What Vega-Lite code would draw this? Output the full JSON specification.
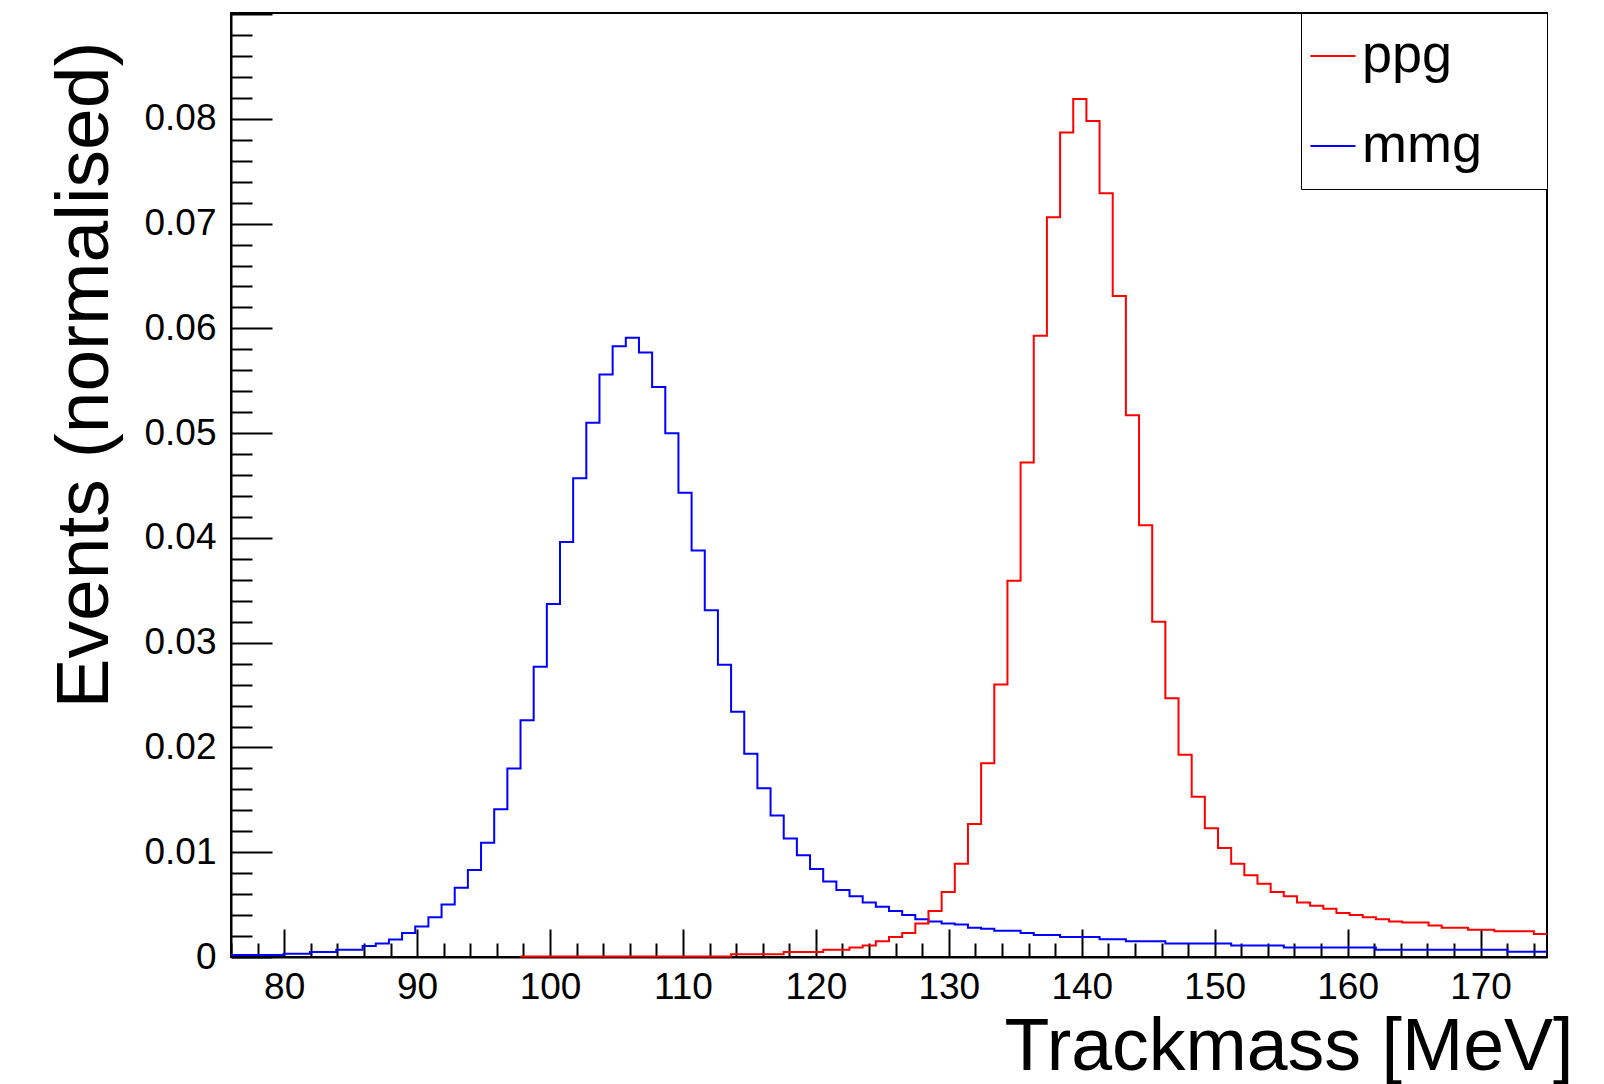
{
  "$schema": "https://vega.github.io/schema/vega-lite/v6.json",
  "width": 1316,
  "height": 944,
  "autosize": "none",
  "padding": {"left": 231, "top": 13, "right": 57, "bottom": 127},
  "background": "white",
  "config": {"view": {"stroke": "black", "strokeWidth": 2}, "font": "Liberation Sans"},
  "data": {"values": [
    {"sample": "mmg", "mass": 76, "events": 0.0002},
    {"sample": "mmg", "mass": 76.99, "events": 0.0002},
    {"sample": "mmg", "mass": 77.98, "events": 0.0002},
    {"sample": "mmg", "mass": 78.97, "events": 0.0002},
    {"sample": "mmg", "mass": 79.96, "events": 0.0003},
    {"sample": "mmg", "mass": 80.95, "events": 0.0003},
    {"sample": "mmg", "mass": 81.94, "events": 0.00048},
    {"sample": "mmg", "mass": 82.93, "events": 0.00048},
    {"sample": "mmg", "mass": 83.92, "events": 0.0007},
    {"sample": "mmg", "mass": 84.91, "events": 0.0007},
    {"sample": "mmg", "mass": 85.9, "events": 0.00105},
    {"sample": "mmg", "mass": 86.89, "events": 0.00128},
    {"sample": "mmg", "mass": 87.88, "events": 0.00166},
    {"sample": "mmg", "mass": 88.87, "events": 0.0023},
    {"sample": "mmg", "mass": 89.86, "events": 0.0029},
    {"sample": "mmg", "mass": 90.85, "events": 0.0038},
    {"sample": "mmg", "mass": 91.84, "events": 0.005},
    {"sample": "mmg", "mass": 92.83, "events": 0.0066},
    {"sample": "mmg", "mass": 93.82, "events": 0.0083},
    {"sample": "mmg", "mass": 94.81, "events": 0.0109},
    {"sample": "mmg", "mass": 95.8, "events": 0.0141},
    {"sample": "mmg", "mass": 96.79, "events": 0.018},
    {"sample": "mmg", "mass": 97.78, "events": 0.0226},
    {"sample": "mmg", "mass": 98.77, "events": 0.0277},
    {"sample": "mmg", "mass": 99.76, "events": 0.0337},
    {"sample": "mmg", "mass": 100.75, "events": 0.0396},
    {"sample": "mmg", "mass": 101.74, "events": 0.0457},
    {"sample": "mmg", "mass": 102.73, "events": 0.051},
    {"sample": "mmg", "mass": 103.72, "events": 0.0556},
    {"sample": "mmg", "mass": 104.71, "events": 0.0583},
    {"sample": "mmg", "mass": 105.7, "events": 0.0591},
    {"sample": "mmg", "mass": 106.69, "events": 0.0577},
    {"sample": "mmg", "mass": 107.68, "events": 0.0544},
    {"sample": "mmg", "mass": 108.67, "events": 0.05},
    {"sample": "mmg", "mass": 109.66, "events": 0.0443},
    {"sample": "mmg", "mass": 110.65, "events": 0.0388},
    {"sample": "mmg", "mass": 111.64, "events": 0.0331},
    {"sample": "mmg", "mass": 112.63, "events": 0.0279},
    {"sample": "mmg", "mass": 113.62, "events": 0.0234},
    {"sample": "mmg", "mass": 114.61, "events": 0.0194},
    {"sample": "mmg", "mass": 115.6, "events": 0.0161},
    {"sample": "mmg", "mass": 116.59, "events": 0.0135},
    {"sample": "mmg", "mass": 117.58, "events": 0.0113},
    {"sample": "mmg", "mass": 118.57, "events": 0.0097},
    {"sample": "mmg", "mass": 119.56, "events": 0.0084},
    {"sample": "mmg", "mass": 120.55, "events": 0.0072},
    {"sample": "mmg", "mass": 121.54, "events": 0.0064},
    {"sample": "mmg", "mass": 122.53, "events": 0.0058},
    {"sample": "mmg", "mass": 123.52, "events": 0.0052},
    {"sample": "mmg", "mass": 124.51, "events": 0.0048},
    {"sample": "mmg", "mass": 125.5, "events": 0.0044},
    {"sample": "mmg", "mass": 126.49, "events": 0.004},
    {"sample": "mmg", "mass": 127.48, "events": 0.0036},
    {"sample": "mmg", "mass": 128.47, "events": 0.0034},
    {"sample": "mmg", "mass": 129.46, "events": 0.0032},
    {"sample": "mmg", "mass": 130.45, "events": 0.0031},
    {"sample": "mmg", "mass": 131.44, "events": 0.0028},
    {"sample": "mmg", "mass": 132.43, "events": 0.0027},
    {"sample": "mmg", "mass": 133.42, "events": 0.0025},
    {"sample": "mmg", "mass": 134.41, "events": 0.0025},
    {"sample": "mmg", "mass": 135.4, "events": 0.0023},
    {"sample": "mmg", "mass": 136.39, "events": 0.0021},
    {"sample": "mmg", "mass": 137.38, "events": 0.0021},
    {"sample": "mmg", "mass": 138.37, "events": 0.0019},
    {"sample": "mmg", "mass": 139.36, "events": 0.0019},
    {"sample": "mmg", "mass": 140.35, "events": 0.0019},
    {"sample": "mmg", "mass": 141.34, "events": 0.0017},
    {"sample": "mmg", "mass": 142.33, "events": 0.0017},
    {"sample": "mmg", "mass": 143.32, "events": 0.0015},
    {"sample": "mmg", "mass": 144.31, "events": 0.0015},
    {"sample": "mmg", "mass": 145.3, "events": 0.0015},
    {"sample": "mmg", "mass": 146.29, "events": 0.0013},
    {"sample": "mmg", "mass": 147.28, "events": 0.0013},
    {"sample": "mmg", "mass": 148.27, "events": 0.0013},
    {"sample": "mmg", "mass": 149.26, "events": 0.0013},
    {"sample": "mmg", "mass": 150.25, "events": 0.0013},
    {"sample": "mmg", "mass": 151.24, "events": 0.0011},
    {"sample": "mmg", "mass": 152.23, "events": 0.0011},
    {"sample": "mmg", "mass": 153.22, "events": 0.0011},
    {"sample": "mmg", "mass": 154.21, "events": 0.0011},
    {"sample": "mmg", "mass": 155.2, "events": 0.0009},
    {"sample": "mmg", "mass": 156.19, "events": 0.0009},
    {"sample": "mmg", "mass": 157.18, "events": 0.0009},
    {"sample": "mmg", "mass": 158.17, "events": 0.0009},
    {"sample": "mmg", "mass": 159.16, "events": 0.0009},
    {"sample": "mmg", "mass": 160.15, "events": 0.0009},
    {"sample": "mmg", "mass": 161.14, "events": 0.0009},
    {"sample": "mmg", "mass": 162.13, "events": 0.0007},
    {"sample": "mmg", "mass": 163.12, "events": 0.0007},
    {"sample": "mmg", "mass": 164.11, "events": 0.0007},
    {"sample": "mmg", "mass": 165.1, "events": 0.0007},
    {"sample": "mmg", "mass": 166.09, "events": 0.0007},
    {"sample": "mmg", "mass": 167.08, "events": 0.0007},
    {"sample": "mmg", "mass": 168.07, "events": 0.0007},
    {"sample": "mmg", "mass": 169.06, "events": 0.0007},
    {"sample": "mmg", "mass": 170.05, "events": 0.0007},
    {"sample": "mmg", "mass": 171.04, "events": 0.0007},
    {"sample": "mmg", "mass": 172.03, "events": 0.0005},
    {"sample": "mmg", "mass": 173.02, "events": 0.0005},
    {"sample": "mmg", "mass": 174.01, "events": 0.0005},
    {"sample": "mmg", "mass": 175, "events": 0.0005},
    {"sample": "ppg", "mass": 97.78, "events": 0.00005},
    {"sample": "ppg", "mass": 98.77, "events": 0.00005},
    {"sample": "ppg", "mass": 99.76, "events": 0.00005},
    {"sample": "ppg", "mass": 100.75, "events": 0.00005},
    {"sample": "ppg", "mass": 101.74, "events": 0.00005},
    {"sample": "ppg", "mass": 102.73, "events": 0.00005},
    {"sample": "ppg", "mass": 103.72, "events": 0.00005},
    {"sample": "ppg", "mass": 104.71, "events": 0.00005},
    {"sample": "ppg", "mass": 105.7, "events": 0.00005},
    {"sample": "ppg", "mass": 106.69, "events": 0.00005},
    {"sample": "ppg", "mass": 107.68, "events": 0.00005},
    {"sample": "ppg", "mass": 108.67, "events": 0.00005},
    {"sample": "ppg", "mass": 109.66, "events": 0.00005},
    {"sample": "ppg", "mass": 110.65, "events": 0.00005},
    {"sample": "ppg", "mass": 111.64, "events": 0.00005},
    {"sample": "ppg", "mass": 112.63, "events": 0.00005},
    {"sample": "ppg", "mass": 113.62, "events": 0.00026},
    {"sample": "ppg", "mass": 114.61, "events": 0.00026},
    {"sample": "ppg", "mass": 115.6, "events": 0.00026},
    {"sample": "ppg", "mass": 116.59, "events": 0.00026},
    {"sample": "ppg", "mass": 117.58, "events": 0.00048},
    {"sample": "ppg", "mass": 118.57, "events": 0.00048},
    {"sample": "ppg", "mass": 119.56, "events": 0.00048},
    {"sample": "ppg", "mass": 120.55, "events": 0.0007},
    {"sample": "ppg", "mass": 121.54, "events": 0.0007},
    {"sample": "ppg", "mass": 122.53, "events": 0.0009},
    {"sample": "ppg", "mass": 123.52, "events": 0.0011},
    {"sample": "ppg", "mass": 124.51, "events": 0.0015},
    {"sample": "ppg", "mass": 125.5, "events": 0.0019},
    {"sample": "ppg", "mass": 126.49, "events": 0.0023},
    {"sample": "ppg", "mass": 127.48, "events": 0.0032},
    {"sample": "ppg", "mass": 128.47, "events": 0.0044},
    {"sample": "ppg", "mass": 129.46, "events": 0.0062},
    {"sample": "ppg", "mass": 130.45, "events": 0.0089},
    {"sample": "ppg", "mass": 131.44, "events": 0.0127},
    {"sample": "ppg", "mass": 132.43, "events": 0.0185},
    {"sample": "ppg", "mass": 133.42, "events": 0.026},
    {"sample": "ppg", "mass": 134.41, "events": 0.0359},
    {"sample": "ppg", "mass": 135.4, "events": 0.0472},
    {"sample": "ppg", "mass": 136.39, "events": 0.0593},
    {"sample": "ppg", "mass": 137.38, "events": 0.0706},
    {"sample": "ppg", "mass": 138.37, "events": 0.0787},
    {"sample": "ppg", "mass": 139.36, "events": 0.0819},
    {"sample": "ppg", "mass": 140.35, "events": 0.0798},
    {"sample": "ppg", "mass": 141.34, "events": 0.0729},
    {"sample": "ppg", "mass": 142.33, "events": 0.0631},
    {"sample": "ppg", "mass": 143.32, "events": 0.0517},
    {"sample": "ppg", "mass": 144.31, "events": 0.0412},
    {"sample": "ppg", "mass": 145.3, "events": 0.032},
    {"sample": "ppg", "mass": 146.29, "events": 0.0247},
    {"sample": "ppg", "mass": 147.28, "events": 0.0193},
    {"sample": "ppg", "mass": 148.27, "events": 0.0153},
    {"sample": "ppg", "mass": 149.26, "events": 0.0123},
    {"sample": "ppg", "mass": 150.25, "events": 0.0104},
    {"sample": "ppg", "mass": 151.24, "events": 0.0089},
    {"sample": "ppg", "mass": 152.23, "events": 0.0078},
    {"sample": "ppg", "mass": 153.22, "events": 0.007},
    {"sample": "ppg", "mass": 154.21, "events": 0.0062},
    {"sample": "ppg", "mass": 155.2, "events": 0.0058},
    {"sample": "ppg", "mass": 156.19, "events": 0.0052},
    {"sample": "ppg", "mass": 157.18, "events": 0.0049},
    {"sample": "ppg", "mass": 158.17, "events": 0.0046},
    {"sample": "ppg", "mass": 159.16, "events": 0.0042},
    {"sample": "ppg", "mass": 160.15, "events": 0.004},
    {"sample": "ppg", "mass": 161.14, "events": 0.0038},
    {"sample": "ppg", "mass": 162.13, "events": 0.0036},
    {"sample": "ppg", "mass": 163.12, "events": 0.0034},
    {"sample": "ppg", "mass": 164.11, "events": 0.0033},
    {"sample": "ppg", "mass": 165.1, "events": 0.0033},
    {"sample": "ppg", "mass": 166.09, "events": 0.003},
    {"sample": "ppg", "mass": 167.08, "events": 0.0028},
    {"sample": "ppg", "mass": 168.07, "events": 0.0028},
    {"sample": "ppg", "mass": 169.06, "events": 0.0026},
    {"sample": "ppg", "mass": 170.05, "events": 0.0026},
    {"sample": "ppg", "mass": 171.04, "events": 0.00245},
    {"sample": "ppg", "mass": 172.03, "events": 0.00245},
    {"sample": "ppg", "mass": 173.02, "events": 0.00245},
    {"sample": "ppg", "mass": 174.01, "events": 0.0022},
    {"sample": "ppg", "mass": 175, "events": 0.0022}
  ]},
  "mark": {"type": "line", "interpolate": "step-after", "strokeWidth": 2},
  "encoding": {
    "x": {
      "field": "mass", "type": "quantitative",
      "scale": {"domain": [76, 175], "nice": false, "zero": false},
      "axis": {
        "title": "Trackmass [MeV]",
        "values": [76,78,80,82,84,86,88,90,92,94,96,98,100,102,104,106,108,110,112,114,116,118,120,122,124,126,128,130,132,134,136,138,140,142,144,146,148,150,152,154,156,158,160,162,164,166,168,170,172,174],
        "labelExpr": "datum.value % 10 === 0 ? datum.label : ''",
        "tickSize": {"condition": {"test": "datum.value % 10 === 0", "value": -28}, "value": -14},
        "tickColor": "black", "tickWidth": 2,
        "domainColor": "black", "domainWidth": 2,
        "grid": false,
        "labelFontSize": 37, "labelColor": "black", "labelPadding": 40, "labelFlush": false, "labelDx": -5,
        "titleFontSize": 73.5, "titleFontWeight": "normal", "titleColor": "black",
        "titleAnchor": "end", "titleAlign": "right", "titleBaseline": "alphabetic",
        "titleX": 1342, "titleY": 112
      }
    },
    "y": {
      "field": "events", "type": "quantitative",
      "scale": {"domain": [0, 0.0901], "nice": false, "zero": true},
      "axis": {
        "title": "Events (normalised)",
        "values": [0,0.002,0.004,0.006,0.008,0.01,0.012,0.014,0.016,0.018,0.02,0.022,0.024,0.026,0.028,0.03,0.032,0.034,0.036,0.038,0.04,0.042,0.044,0.046,0.048,0.05,0.052,0.054,0.056,0.058,0.06,0.062,0.064,0.066,0.068,0.07,0.072,0.074,0.076,0.078,0.08,0.082,0.084,0.086,0.088,0.09],
        "labelExpr": "abs(datum.value*100 - round(datum.value*100)) < 1e-6 && datum.value < 0.0895 ? format(datum.value, '.2~f') : ''",
        "tickSize": {"condition": {"test": "abs(datum.value*100 - round(datum.value*100)) < 1e-6", "value": -41}, "value": -21},
        "tickColor": "black", "tickWidth": 2,
        "domainColor": "black", "domainWidth": 2,
        "grid": false,
        "labelFontSize": 37, "labelColor": "black", "labelPadding": 56, "labelFlush": false,
        "titleFontSize": 75, "titleFontWeight": "normal", "titleColor": "black",
        "titleAnchor": "end", "titleAlign": "right", "titleBaseline": "alphabetic",
        "titleAngle": -90, "titleX": -124, "titleY": 28
      }
    },
    "color": {
      "field": "sample", "type": "nominal",
      "scale": {"domain": ["ppg", "mmg"], "range": ["#ff0000", "#0000ff"]},
      "legend": {
        "orient": "none", "legendX": 1070, "legendY": 0,
        "direction": "vertical",
        "title": "\u00a0", "titleOrient": "right", "titlePadding": 60, "titleFontSize": 4,
        "symbolType": "stroke", "symbolSize": 2025, "symbolStrokeWidth": 2,
        "labelFontSize": 54, "labelColor": "black", "labelOffset": 2,
        "padding": 5, "strokeColor": "black", "fillColor": "white",
        "clipHeight": 76, "rowPadding": 14
      }
    }
  }
}
